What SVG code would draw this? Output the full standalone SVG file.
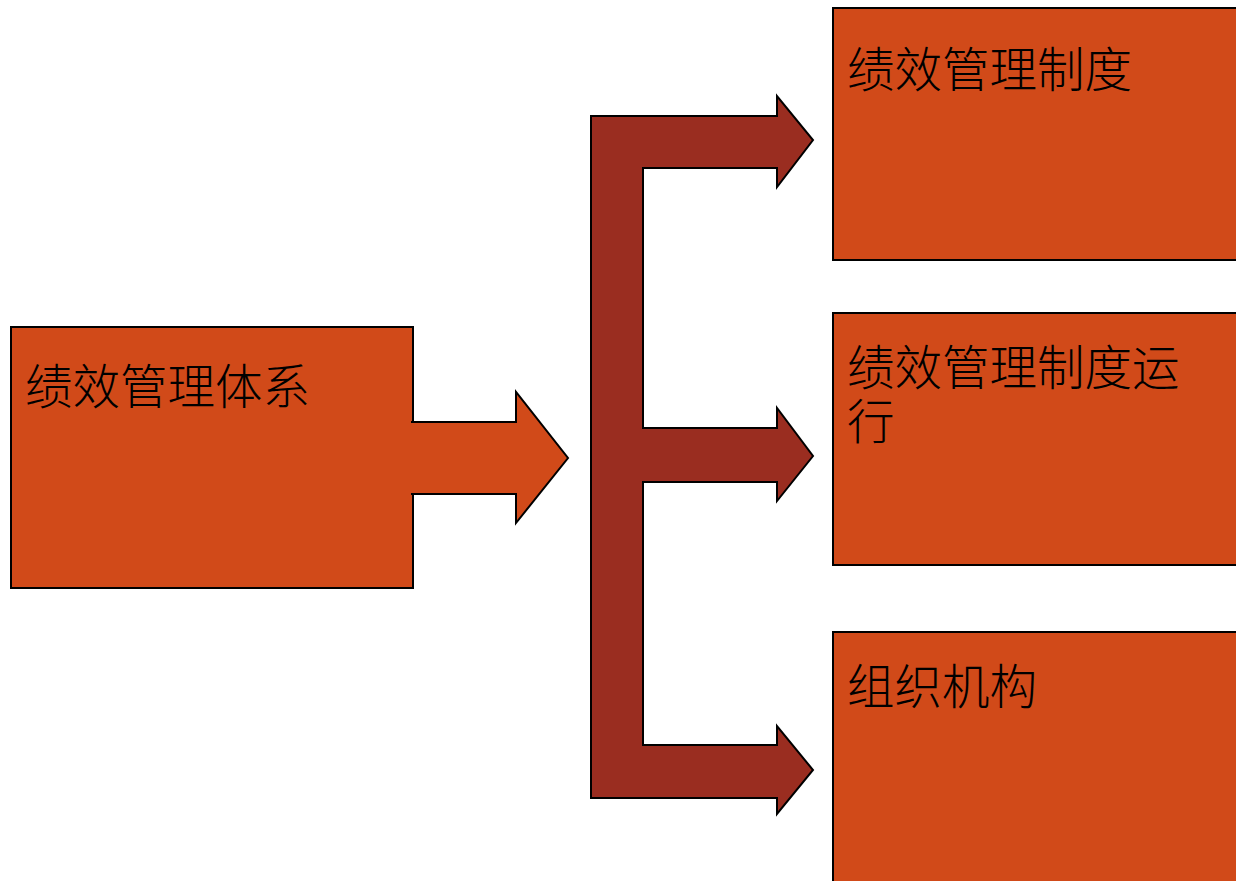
<svg xmlns="http://www.w3.org/2000/svg" width="1236" height="881" viewBox="0 0 1236 881">
<style>
.box{fill:#D14A19;stroke:#000;stroke-width:2}
.brace{fill:#9A2D20;stroke:#000;stroke-width:2;stroke-linejoin:miter}
.lbl{font-family:"Noto Sans CJK SC","Noto Sans CJK TC",sans-serif;font-size:47.5px;fill:#000;font-weight:300}
</style>
<rect width="1236" height="881" fill="#fff"/>
<g id="node-root">
<rect class="box" x="11" y="327" width="402" height="261"/>
<text class="lbl" x="25" y="404">绩效管理体系</text>
</g>
<g id="node-1">
<rect class="box" x="833" y="8" width="410" height="252"/>
<text class="lbl" x="847" y="87">绩效管理制度</text>
</g>
<g id="node-2">
<rect class="box" x="833" y="313" width="410" height="252"/>
<text class="lbl" x="847" y="385"><tspan x="847" y="385">绩效管理制度运</tspan><tspan x="847" y="439">行</tspan></text>
</g>
<g id="node-3">
<rect class="box" x="833" y="632" width="410" height="260"/>
<text class="lbl" x="847" y="704">组织机构</text>
</g>
<g id="connectors">
<path class="box" d="M411,422 L516,422 L516,392 L568,458 L516,523 L516,494 L411,494"/>
<polygon class="brace" points="591,116 777,116 777,96 813,140 777,187 777,168 643,168 643,428 777,428 777,408 813,456 777,501 777,482 643,482 643,745 777,745 777,726 813,770 777,814 777,798 591,798"/>
</g>
</svg>
